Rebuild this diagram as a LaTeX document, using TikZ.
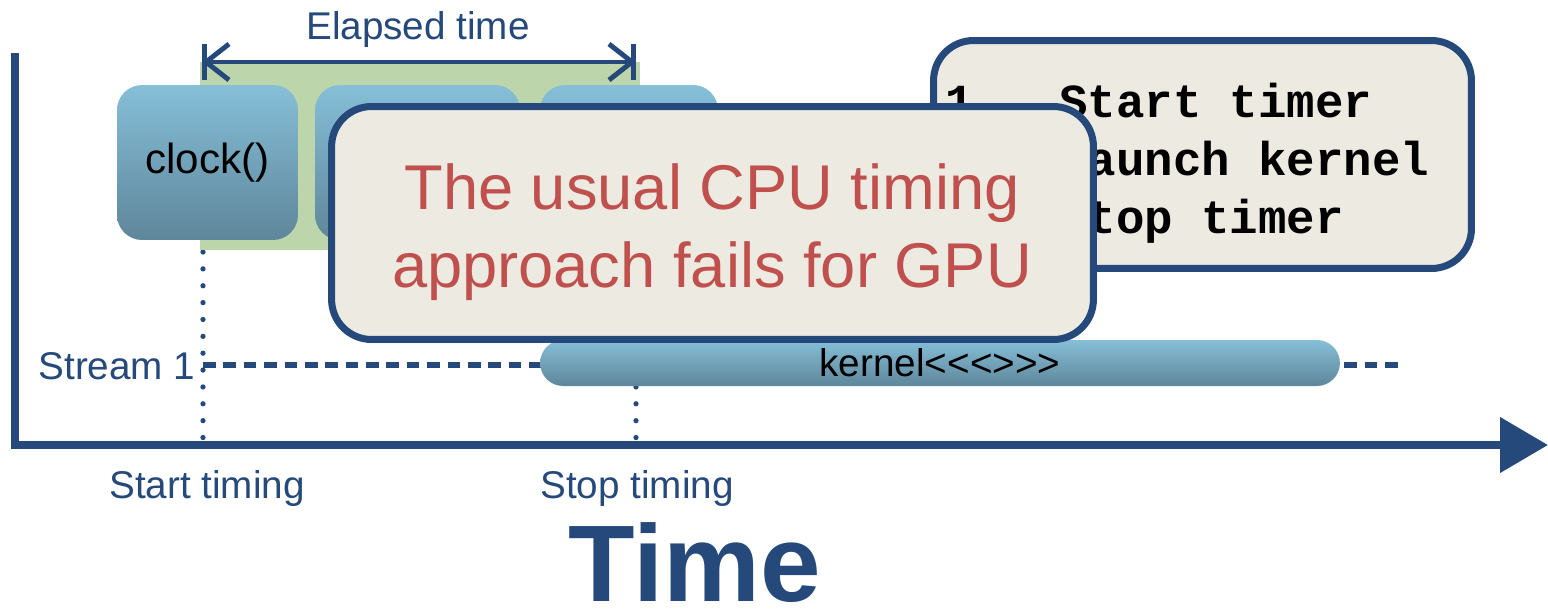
\documentclass[tikz,border=0pt]{standalone}
\usepackage{fontspec}
\setmainfont{Liberation Sans}
\newfontfamily\codefont{Liberation Mono}
\usetikzlibrary{arrows.meta}
\definecolor{axisblue}{RGB}{36,73,122}
\definecolor{spangreen}{RGB}{188,213,170}
\definecolor{blocktop}{RGB}{134,191,216}
\definecolor{blockbot}{RGB}{94,134,154}
\definecolor{notefill}{RGB}{237,235,225}
\definecolor{notered}{RGB}{192,80,77}
\tikzset{
  block/.style={rounded corners=0.5cm, top color=blocktop, bottom color=blockbot,
    draw=none, inner sep=0pt, font=\fontsize{24}{28}\selectfont, text=black},
  kernelbar/.style={rounded corners=0.46cm, top color=blocktop, bottom color=blockbot,
    draw=none, inner sep=0pt, font=\fontsize{22}{26}\selectfont, text=black},
  callout/.style={rounded corners=0.8cm, fill=notefill, draw=axisblue, line width=4pt, inner sep=0pt},
  axis/.style={draw=axisblue, line width=4.5pt},
  marker/.style={draw=axisblue, line width=2.8pt},
  dotline/.style={draw=axisblue, line width=3pt, line cap=round, dash pattern=on 0pt off 9.6pt},
  streamline/.style={draw=axisblue, line width=3.4pt, dash pattern=on 7.2pt off 4.4pt},
  label/.style={text=axisblue, font=\fontsize{22}{26}\selectfont, inner sep=0pt},
}
\begin{document}
\begin{tikzpicture}[x=0.02cm, y=-0.02cm]
\useasboundingbox (0,0) rectangle (1548,609);

% timing markers
\coordinate (startTop) at (203,252);
\coordinate (startBot) at (203,440);
\coordinate (stopTop) at (636,252);
\coordinate (stopBot) at (636,440);
\draw[dotline] (startTop) -- (startBot);
\draw[dotline] (stopTop) -- (stopBot);

% measured span
\node[fill=spangreen, minimum width=8.8cm, minimum height=3.76cm, inner sep=0pt] (span) at (420,156) {};
\coordinate (eL) at (202,62);
\coordinate (eR) at (636,62);
\draw[marker, {Bar[width=0.72cm]}-{Bar[width=0.72cm]}] (eL) -- (eR);
\draw[marker, {Straight Barb[length=0.46cm,width=0.72cm]}-{Straight Barb[length=0.46cm,width=0.72cm]}] (eL) -- (eR);
\node[label] (elapsed) at (418,30) {Elapsed time};

% CPU-side calls
\node[block, minimum width=3.62cm, minimum height=3.1cm] (clock) at (207.5,162.5) {clock()};
\node[block, minimum width=4.1cm, minimum height=3.1cm] (launch) at (417.5,162.5) {};
\node[block, minimum width=3.56cm, minimum height=3.1cm] (clock2) at (629,162.5) {};

% time axis
\coordinate (ytop) at (15,53);
\coordinate (xend) at (1548,445);
\draw[axis, -{Triangle[length=0.96cm,width=1.08cm]}] (ytop) |- (xend);

% stream 1
\node[label] (stream) at (117,366) {Stream 1};
\coordinate (sStart) at (203,365);
\coordinate (sEnd) at (1405,365);
\draw[streamline] (sStart) -- (sEnd);
\node[kernelbar, minimum width=16cm, minimum height=0.92cm] (kernel) at (940,363) {kernel{<}{<}{<}{>}{>}{>}};

\node[label] (startlbl) at (207,488) {Start timing};
\node[label] (stoplbl) at (637,488) {Stop timing};
\node[text=axisblue, font=\fontsize{62}{70}\selectfont\bfseries, inner sep=0pt] (time) at (695,563) {Time};

% notes
\node[callout, minimum width=10.76cm, minimum height=4.56cm] (steps) at (1202.5,154.5) {};
\node[anchor=west, align=left, inner sep=0pt, font=\codefont\bfseries\fontsize{27}{33}\selectfont] (stepstext) at (945,163)
  {1.~~Start timer\\2.~~Launch kernel\\3.~~Stop timer};
\node[callout, minimum width=15.24cm, minimum height=4.66cm] (fails) at (712.5,223) {};
\node[text=notered, align=center, inner sep=0pt, font=\fontsize{36}{44}\selectfont] (failstext) at (712,232)
  {The usual CPU timing\\approach fails for GPU};
\end{tikzpicture}
\end{document}
